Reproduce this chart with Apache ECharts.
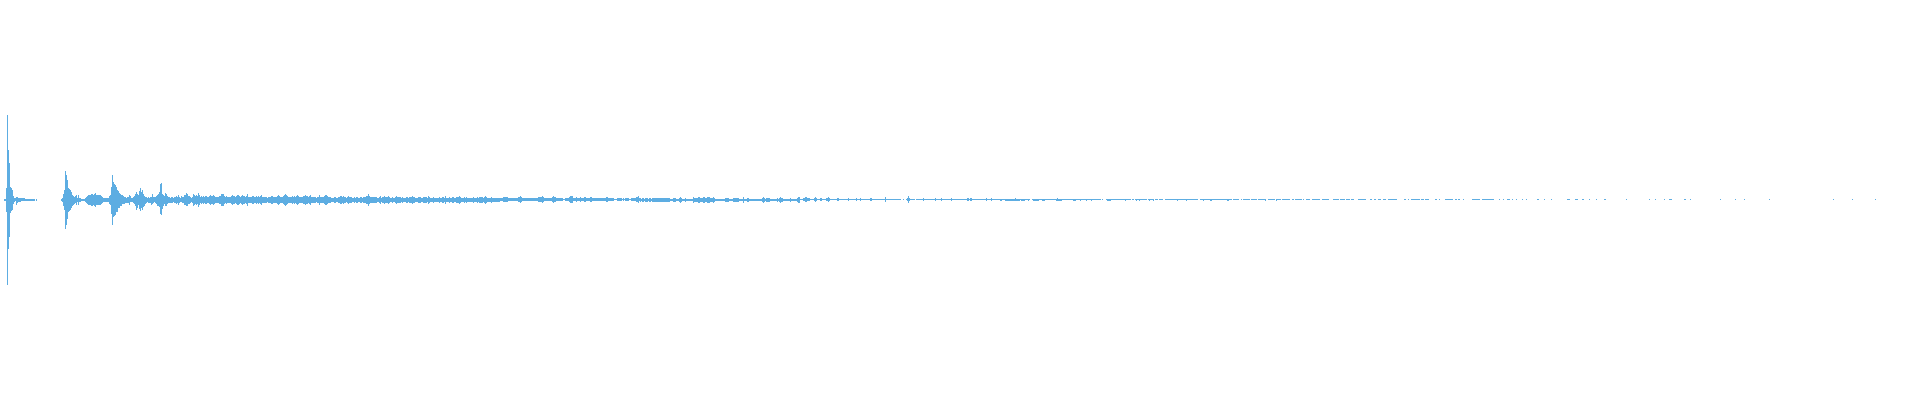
<!DOCTYPE html>
<html><head><meta charset="utf-8">
<style>html,body{margin:0;padding:0;background:#fff}#c{width:1920px;height:400px}</style>
<script src="https://cdn.jsdelivr.net/npm/echarts@6/dist/echarts.min.js"></script>
</head><body><div id="c"></div>
<script>
// Rows of ink above / below the baseline for each pixel column.
const onsetAbove = [0,0,0,0,1,1,12,85,50,37,13,12,10,4,2,2,3,3,2,2,2,2,2,2,2,1,1,1,1,1,1,1,1,1,1,0,1,0,0,0,0,0,0,0,0,0,0,0,0,0,0,0,0,0,0,0,0,0,0,0,0,1,2,6,10,29,25,20,12,11,10,8,5,4,3,4,5,2,5,2,2,1,1,1,1,2,3,4,5,5,5,6,6,5,6,7,5,5,5,5,
5,4,3,2,2,2,2,2,2,4,5,13,25,18,16,15,13,10,9,7,6,5,5,4,3,3,2,3,3,5,4,2,2,3,4,6,8,6,5,9,12,8,10,6,4,3,3,2,3,2,3,3,6,3,3,3,4,5,6,8,16,17,6,5,4,7,6,4,3,3,2,3,3,2,3,3,4,3,5,3,2,4,3,3,5,5,7,6,4,4,3,2,3,6,5,4,5,4,7,5];
const onsetBelow = [0,0,0,0,1,1,12,85,49,37,13,11,10,4,2,1,5,3,2,2,2,1,1,1,1,1,1,1,1,1,1,1,1,1,1,0,1,0,0,0,0,0,0,0,0,0,0,0,0,0,0,0,0,0,0,0,0,0,0,0,0,1,2,6,10,29,25,19,12,11,10,8,6,5,4,3,5,2,5,2,2,1,1,1,1,2,3,4,5,5,5,6,6,5,6,7,5,5,5,5,
5,4,3,2,2,2,2,2,2,4,5,14,25,17,16,15,12,12,8,8,6,6,4,4,4,3,3,3,3,5,2,2,2,3,4,6,10,8,5,9,11,8,10,7,6,4,3,2,3,3,3,5,4,3,2,3,4,6,6,7,14,15,9,6,4,6,6,4,3,3,3,3,3,2,3,3,4,3,5,3,2,2,3,3,5,5,6,6,4,4,3,2,3,6,5,4,5,4,7,5];
const bodyAmp = [3,4,3,4,3,4,4,3,3,4,5,4,4,5,4,3,3,3,3,4,4,6,6,6,4,3,4,3,3,3,3,4,5,4,4,3,4,5,5,4,3,4,5,4,4,3,4,6,3,3,
3,3,4,4,3,3,4,3,4,3,4,5,3,3,3,3,3,2,3,3,3,4,4,3,3,3,3,4,5,4,3,3,3,4,5,6,5,4,3,3,3,3,4,3,4,3,4,5,4,3,
3,3,3,4,4,5,4,4,3,4,5,3,3,3,3,3,2,3,3,5,3,3,3,3,4,5,5,4,3,3,3,2,2,2,3,3,2,2,3,3,4,4,3,4,3,3,2,3,4,3,
3,3,2,2,3,2,3,3,2,2,3,3,2,3,3,3,4,4,6,4,3,3,3,3,3,3,3,2,2,3,4,2,3,3,4,3,3,3,4,3,2,2,3,2,2,3,4,3,3,3,
3,2,3,2,2,2,3,3,2,3,3,3,4,3,3,2,2,2,3,3,3,2,2,3,3,3,3,2,4,3,2,2,2,3,2,2,2,2,2,3,2,2,3,3,2,4,2,2,2,3,
2,2,3,3,2,2,3,3,3,4,3,2,2,2,3,2,3,2,2,2,2,2,2,3,2,2,2,3,2,3,3,3,3,2,3,4,3,2,2,2,2,3,2,2,2,2,2,2,2,2,
2,2,2,3,3,3,3,3,2,2,2,2,2,2,2,2,2,2,3,3,4,3,2,2,2,2,2,2,2,2,2,2,2,2,2,2,2,2,3,3,3,3,4,3,2,2,2,2,2,2,
2,2,3,4,3,3,2,2,2,2,2,2,2,1,1,2,2,2,2,3,4,4,4,2,2,2,3,2,2,2,3,2,2,2,3,3,2,2,2,2,3,3,2,2,2,2,2,2,2,2,
2,2,2,2,2,2,3,3,2,2,2,2,2,2,1,1,1,2,2,2,2,2,1,2,1,2,2,2,2,1,1,2,2,2,2,2,3,3,4,2,2,1,2,2,1,2,2,2,1,2,
2,1,2,2,2,2,2,2,2,2,2,2,2,2,2,2,2,2,2,2,1,1,1,2,2,2,1,1,1,2,3,2,1,1,1,2,1,1,1,1,1,1,1,3,2,2,2,2,3,3,
2,2,2,3,3,2,2,3,3,3,2,2,2,3,2,1,1,1,1,1,1,1,1,1,1,2,2,2,2,1,1,1,1,2,2,2,2,2,2,1,1,1,1,3,1,1,1,2,2,1,
1,1,1,1,1,1,1,1,1,1,1,1,2,3,2,1,2,2,2,2,1,1,1,1,1,1,1,2,1,2,3,2,2,1,1,1,1,1,1,1,2,1,1,1,1,1,1,2,3,3,
1,1,1,2,2,3,3,2,2,2,1,1,1,1,2,3,2,1,1,1,2,2,1,1,1,1,2,2,3,2,1,1,1,1,1,1,1,2,2,1,1,1,1,1,1,1,1,1,2,1,
1,1,1,1,1,1,2,1,1,1,2,1,1,1,1,1,1,1,1,1,2,2,1,1,1,1,1,1,1,1,1,1,1,1,1,3,1,1,1,1,1,1,1,1,1,1,1,1,1,1,
1,0,0,1,0,0,1,2,4,2,1,1,1,1,1,0,1,1,1,1,1,1,1,2,1,1,1,1,1,1,1,1,1,1,1,2,1,1,1,1,1,2,1,1,1,1,1,1,1,1,
1,2,1,1,1,1,1,1,1,1,1,1,1,1,1,1,1,2,2,1,2,2,1,1,1,1,1,1,1,1,1,1,1,1,1,1,2,1,1,1,1,2,1,1,1,1,1,1,1,1];
// Stretches of bodyAmp whose band is even about the baseline: [first column, column count]
const evenSpans = [[200,300],[640,160]];
// Spans of the last stretch: [first column, column count]
const tailRuns = [[1000,30],[1032,69],[1102,1],[1106,25],[1132,2],[1135,12],[1148,6],[1155,3],[1159,4],[1165,33],[1200,24],[1224,8],[1233,6],[1241,1],[1243,7],[1251,6],[1258,8],[1268,7],[1276,5],[1282,8],[1292,2],[1295,5],
[1300,2],[1303,1],[1306,4],[1312,8],[1322,7],[1333,6],[1340,5],[1346,4],[1351,3],[1358,8],[1370,2],[1374,2],[1378,3],[1383,3],[1388,9],[1404,2],[1408,1],[1411,9],[1421,3],[1425,4],[1435,2],[1439,1],[1445,8],[1455,2],[1458,2],[1463,1],[1472,8],[1482,12],[1499,1],[1503,1],[1507,3],[1512,1],[1516,1],[1522,1],[1526,1],[1537,2],[1544,1],[1551,1],[1567,3],[1575,3],[1582,2],[1589,1],[1596,1],
[1604,2],[1626,1],[1649,1],[1655,1],[1664,1],[1669,3],[1684,2],[1690,1],[1720,1],[1735,1],[1744,1],[1769,1],[1833,1],[1852,1],[1875,1]];
const tailBelow = [[1000,2],[1005,15],[1021,4],[1028,1],[1033,6],[1042,3],[1056,6],[1073,3],[1080,1],[1086,1],[1091,1],[1107,4],[1125,1],[1136,1],[1139,1],[1149,1],[1153,1],[1177,1],[1186,1],[1203,1],[1210,2],[1227,2],[1265,1],[1276,1]];
const tailTaller = [1015,1057];

const COLUMNS = 1920;
const categories = Array.from({length: COLUMNS}, (_, i) => i);
const above = new Array(COLUMNS).fill(0), below = new Array(COLUMNS).fill(0);
onsetAbove.forEach((v, i) => { above[i] = v; });
onsetBelow.forEach((v, i) => { below[i] = v; });
bodyAmp.forEach((v, i) => { above[200 + i] = v; below[200 + i] = Math.max(v - 1, 0); });
evenSpans.forEach(([s, n]) => { for (let i = 0; i < n; i++) below[s + i] = above[s + i]; });
tailRuns.forEach(([s, n]) => { for (let i = 0; i < n; i++) above[s + i] = 1; });
tailBelow.forEach(([s, n]) => { for (let i = 0; i < n; i++) below[s + i] = 1; });
tailTaller.forEach(i => { above[i] = 2; });

const COLOR = '#5dade2';
const chart = echarts.init(document.getElementById('c'), null, {renderer: 'canvas', devicePixelRatio: 1});
chart.setOption({
  animation: false,
  backgroundColor: '#ffffff',
  grid: {left: 0, right: 0, top: 0, bottom: 0, containLabel: false},
  xAxis: {type: 'category', data: categories, show: false, boundaryGap: true},
  yAxis: {type: 'value', min: -200, max: 200, show: false},
  series: [
    {name: 'above', type: 'bar', data: above, barWidth: 1, barGap: '-100%', silent: true, progressive: 0, itemStyle: {color: COLOR}},
    {name: 'below', type: 'bar', data: below.map(v => -v), barWidth: 1, barGap: '-100%', silent: true, progressive: 0, itemStyle: {color: COLOR}}
  ]
});
</script></body></html>
